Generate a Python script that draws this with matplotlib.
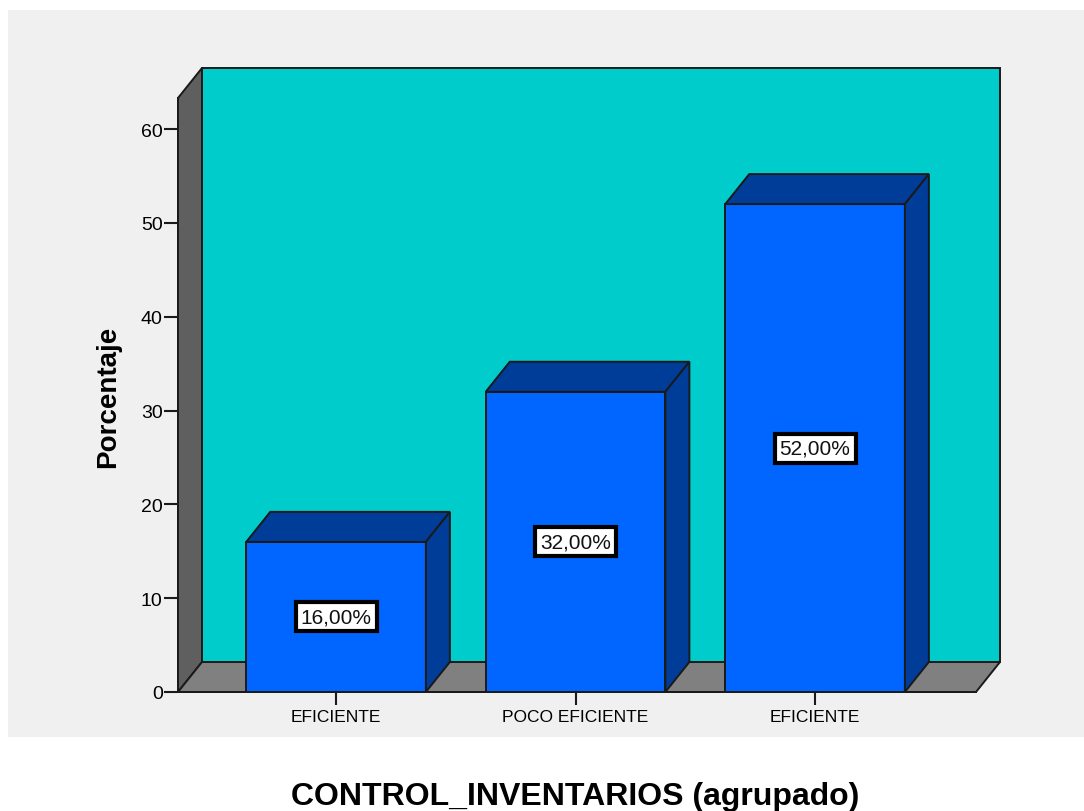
import matplotlib
matplotlib.use("Agg")
import matplotlib.pyplot as plt
from matplotlib.patches import Polygon, Rectangle

categories = ["EFICIENTE", "POCO EFICIENTE", "EFICIENTE"]
values = [16.0, 32.0, 52.0]
bar_labels = ["16,00%", "32,00%", "52,00%"]
yticks = [0, 10, 20, 30, 40, 50, 60]
xlabel = "CONTROL_INVENTARIOS (agrupado)"
ylabel = "Porcentaje"

plt.rcParams['font.family'] = ['Liberation Sans', 'DejaVu Sans']

W, H = 1084, 812
fig = plt.figure(figsize=(W / 100, H / 100), dpi=100)
fig.patch.set_facecolor("white")

# gray chart background
fig.patches.append(Rectangle((8 / W, 1 - 738 / H), (1084 - 8) / W, (738 - 11) / H,
                             transform=fig.transFigure, facecolor="#f0f0f0",
                             edgecolor="none", zorder=-10))

# axes mapped to pixel geometry
px_left, px_right, px_top, px_bottom = 178, 1000, 70, 693
ax = fig.add_axes([px_left / W, 1 - px_bottom / H,
                   (px_right - px_left) / W, (px_bottom - px_top) / H])
ax.set_zorder(1)
xunit = 239.5          # pixels per category
yunit = 9.383          # pixels per percent
x0 = -0.66
ax.set_xlim(x0, x0 + (px_right - px_left) / xunit)
ax.set_ylim(0, (px_bottom - px_top) / yunit)
ax.patch.set_alpha(0)
for s in ax.spines.values():
    s.set_visible(False)

dx = 24 / xunit
dy = 30 / yunit
x_end = x0 + (976 - 178) / xunit
ytop = (693 - 99) / yunit
ec = "#1a1a1a"
lw = 1.4

# back wall
ax.add_patch(Polygon([(x0 + dx, dy), (x_end + dx, dy), (x_end + dx, ytop + dy), (x0 + dx, ytop + dy)],
                     closed=True, facecolor="#00cccc", edgecolor=ec, lw=lw, clip_on=False, zorder=1))
# left wall
ax.add_patch(Polygon([(x0, 0), (x0 + dx, dy), (x0 + dx, ytop + dy), (x0, ytop)],
                     closed=True, facecolor="#5f5f5f", edgecolor=ec, lw=lw, clip_on=False, zorder=1))
# floor
ax.add_patch(Polygon([(x0, 0), (x_end, 0), (x_end + dx, dy), (x0 + dx, dy)],
                     closed=True, facecolor="#808080", edgecolor=ec, lw=lw, clip_on=False, zorder=1))

bw = 0.75
for i, v in enumerate(values):
    l, r = i - bw / 2, i + bw / 2
    ax.add_patch(Polygon([(l, 0), (r, 0), (r, v), (l, v)], closed=True,
                         facecolor="#0066ff", edgecolor=ec, lw=lw, clip_on=False, zorder=3))
    ax.add_patch(Polygon([(l, v), (r, v), (r + dx, v + dy), (l + dx, v + dy)], closed=True,
                         facecolor="#003d99", edgecolor=ec, lw=lw, clip_on=False, zorder=3))
    ax.add_patch(Polygon([(r, 0), (r + dx, dy), (r + dx, v + dy), (r, v)], closed=True,
                         facecolor="#003d99", edgecolor=ec, lw=lw, clip_on=False, zorder=3))
    ax.text(i, v / 2, bar_labels[i], ha="center", va="center", fontsize=15, color="#111111",
            zorder=5, bbox=dict(boxstyle="square,pad=0.24", facecolor="white",
                                edgecolor="black", linewidth=3.0))

ax.set_xticks(range(len(categories)))
ax.set_xticklabels(categories, fontsize=12.5)
ax.set_yticks(yticks)
ax.set_yticklabels([str(t) for t in yticks], fontsize=14)
ax.tick_params(axis="y", direction="out", length=10, width=1.5, pad=1, color="#1a1a1a")
ax.tick_params(axis="x", direction="out", length=9, width=1.5, pad=3, color="#1a1a1a")

# axis lines along front edges
ax.plot([x0, x0], [0, ytop], color=ec, lw=lw, clip_on=False, zorder=2)
ax.plot([x0, x_end], [0, 0], color=ec, lw=lw, clip_on=False, zorder=2)

fig.text(108 / W, 1 - 397 / H, ylabel, rotation=90, ha="center", va="center",
         fontsize=20, fontweight="bold")
fig.text(575 / W, 1 - 797 / H, xlabel, ha="center", va="center",
         fontsize=23, fontweight="bold")

fig.savefig("out.png", dpi=100, facecolor="white")
